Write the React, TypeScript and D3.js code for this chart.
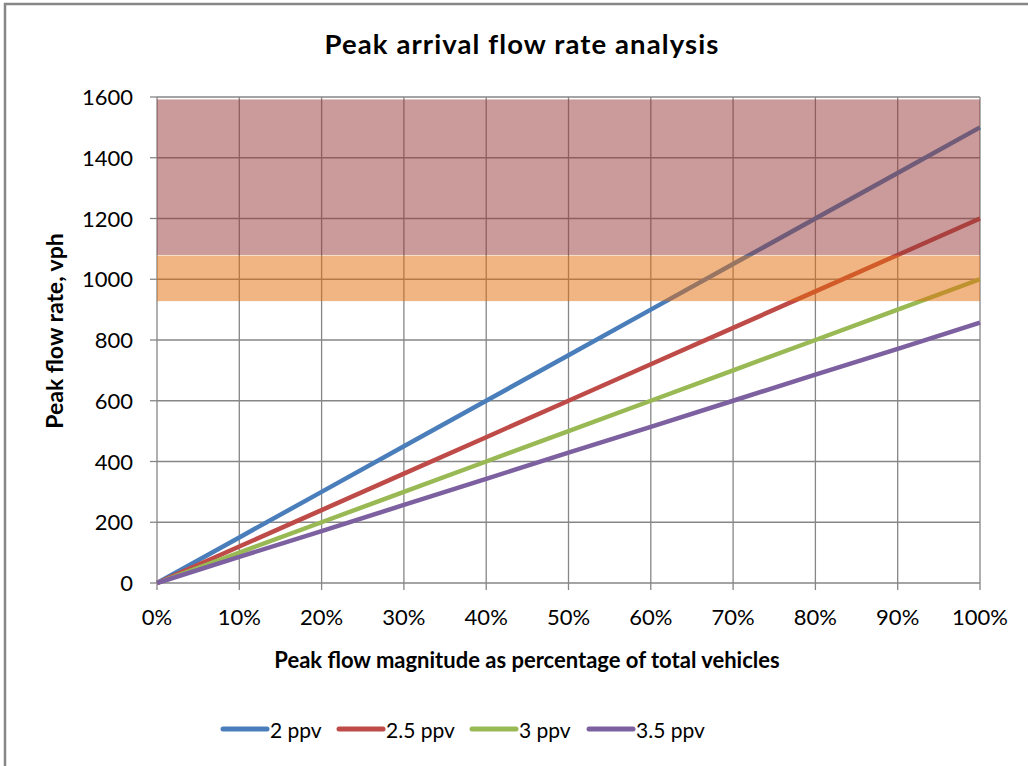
import React from "react";
import * as d3 from "d3";

const shares = [0, 0.1, 0.2, 0.3, 0.4, 0.5, 0.6, 0.7, 0.8, 0.9, 1.0];
const ppv2 = [0, 150, 300, 450, 600, 750, 900, 1050, 1200, 1350, 1500];
const ppv25 = [0, 120, 240, 360, 480, 600, 720, 840, 960, 1080, 1200];
const ppv3 = [0, 100, 200, 300, 400, 500, 600, 700, 800, 900, 1000];
const ppv35 = [0, 86, 171, 257, 343, 429, 514, 600, 686, 771, 857];
const seriesNames = ["2 ppv", "2.5 ppv", "3 ppv", "3.5 ppv"];
const seriesColors = ["#4A7EBB", "#BE4B48", "#98B954", "#7D60A0"];
const yTicks = [0, 200, 400, 600, 800, 1000, 1200, 1400, 1600];
const xTicks = [0, 0.1, 0.2, 0.3, 0.4, 0.5, 0.6, 0.7, 0.8, 0.9, 1.0];
// threshold bands [low, high]
const capacityBand = [1080, 1592];
const warningBand = [928, 1078];

const FONT = "Lato, 'Open Sans', sans-serif";

export default function App() {
  const W = 1028, H = 766;
  const x = d3.scaleLinear().domain([0, 1]).range([157, 980]);
  const y = d3.scaleLinear().domain([0, 1600]).range([583, 97]);
  const all = [ppv2, ppv25, ppv3, ppv35];
  const line = d3.line<number>().x((_, i) => x(shares[i])).y((d) => y(d));
  const fmt = d3.format(".0%");
  const legendX = [223, 339, 472, 589];
  return (
    <svg width={W} height={H} style={{ position: "absolute", left: 0, top: 0, background: "#fff" }} fontFamily={FONT}>
      <rect x={5} y={4} width={1040} height={800} fill="#fff" stroke="#878787" strokeWidth={2.5} />
      <text x={522} y={54} textAnchor="middle" fontWeight="bold" fontSize={27.5} letterSpacing={1.1} fill="#000">Peak arrival flow rate analysis</text>
      {/* gridlines */}
      {yTicks.map((t) => (
        <line key={"gy" + t} x1={x(0)} x2={x(1)} y1={y(t)} y2={y(t)} stroke="#868686" strokeWidth={1.3} />
      ))}
      {xTicks.map((t) => (
        <line key={"gx" + t} x1={x(t)} x2={x(t)} y1={y(0)} y2={y(1600)} stroke="#868686" strokeWidth={1.3} />
      ))}
      {/* ticks */}
      {yTicks.map((t) => (
        <line key={"ty" + t} x1={x(0) - 7} x2={x(0)} y1={y(t)} y2={y(t)} stroke="#868686" strokeWidth={1.3} />
      ))}
      {xTicks.map((t) => (
        <line key={"tx" + t} x1={x(t)} x2={x(t)} y1={y(0)} y2={y(0) + 7} stroke="#868686" strokeWidth={1.3} />
      ))}
      {/* lines */}
      {all.map((s, i) => (
        <path key={"l" + i} d={line(s) || ""} fill="none" stroke={seriesColors[i]} strokeWidth={4.5} />
      ))}
      {/* bands */}
      <rect x={x(0)} width={x(1) - x(0)} y={y(capacityBand[1])} height={y(capacityBand[0]) - y(capacityBand[1])} fill="#953735" fillOpacity={0.5} />
      <rect x={x(0)} width={x(1) - x(0)} y={y(warningBand[1])} height={y(warningBand[0]) - y(warningBand[1])} fill="#E46C0A" fillOpacity={0.5} />
      {/* tick labels */}
      {yTicks.map((t) => (
        <text key={"yl" + t} x={133} y={y(t) + 8} textAnchor="end" fontSize={22} fill="#000">{t}</text>
      ))}
      {xTicks.map((t) => (
        <text key={"xl" + t} x={x(t)} y={625} textAnchor="middle" fontSize={22} fill="#000">{fmt(t)}</text>
      ))}
      <text x={527} y={668} textAnchor="middle" fontWeight="bold" fontSize={22} fill="#000">Peak flow magnitude as percentage of total vehicles</text>
      <text transform="translate(63,331) rotate(-90)" textAnchor="middle" fontWeight="bold" fontSize={23} fill="#000">Peak flow rate, vph</text>
      {/* legend */}
      {seriesNames.map((n, i) => (
        <g key={"lg" + i}>
          <line x1={legendX[i]} x2={legendX[i] + 44} y1={729} y2={729} stroke={seriesColors[i]} strokeWidth={5} strokeLinecap="round" />
          <text x={legendX[i] + 47} y={738} fontSize={21} fill="#000">{n}</text>
        </g>
      ))}
    </svg>
  );
}
